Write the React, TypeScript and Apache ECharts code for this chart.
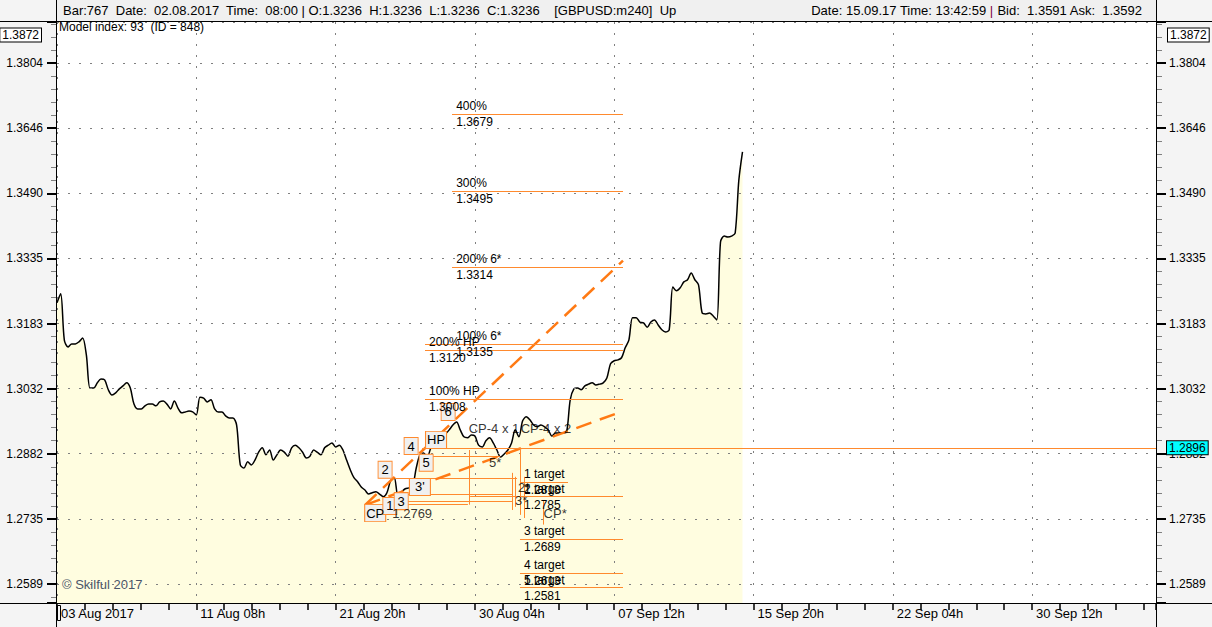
import React, { useEffect, useRef } from "react";
import * as echarts from "echarts";

const FONT = "'Liberation Sans', Arial, sans-serif";
const ORANGE = "#FF8A2E";

// ---- axes ----
const xTickLabels = ["03 Aug 2017", "11 Aug 08h", "21 Aug 20h", "30 Aug 04h", "07 Sep 12h", "15 Sep 20h", "22 Sep 04h", "30 Sep 12h"];
const BARS_PER_LABEL = 38;
const LAST_SLOT = 299.8;

const yTickLabels = ["1.2589", "1.2735", "1.2882", "1.3032", "1.3183", "1.3335", "1.3490", "1.3646", "1.3804"];
const Y_FIRST_EXP = 20; // 10^(0.005*20) = 1.2589
const LOG_STEP = 0.005;
const Y_AXIS_MIN_PRICE = 1.25469;
const Y_AXIS_MAX_PRICE = 1.39045;

// ---- GBPUSD H4 closes ----
const closes = [
  1.3231, 1.3252, 1.3144, 1.3128, 1.3135, 1.3135, 1.3140, 1.3149, 1.3110, 1.3033,
  1.3033, 1.3045, 1.3054, 1.3052, 1.3029, 1.3017, 1.3022, 1.3031, 1.3038, 1.3045,
  1.3033, 1.2996, 1.2985, 1.2985, 1.2992, 1.2996, 1.2996, 1.2992, 1.3001, 1.3003,
  1.2996, 1.2985, 1.3003, 1.2987, 1.2976, 1.2978, 1.2980, 1.2978, 1.2971, 1.3012,
  1.3010, 1.3001, 1.3006, 1.2985, 1.2978, 1.2978, 1.2969, 1.2964, 1.2964, 1.2948,
  1.2857, 1.2850, 1.2864, 1.2857, 1.2868, 1.2886, 1.2896, 1.2880, 1.2891, 1.2868,
  1.2880, 1.2891, 1.2886, 1.2877, 1.2896, 1.2902, 1.2896, 1.2886, 1.2873, 1.2877,
  1.2891, 1.2886, 1.2880, 1.2896, 1.2902, 1.2907, 1.2898, 1.2902, 1.2891, 1.2868,
  1.2846, 1.2828, 1.2819, 1.2807, 1.2800, 1.2791, 1.2794, 1.2796, 1.2791, 1.2785,
  1.2794, 1.2821, 1.2828, 1.2789, 1.2796, 1.2803, 1.2805, 1.2809, 1.2850, 1.2880,
  1.2884, 1.2875, 1.2896, 1.2905, 1.2916, 1.2923, 1.2928, 1.2937, 1.2948, 1.2955,
  1.2937, 1.2921, 1.2919, 1.2925, 1.2923, 1.2902, 1.2898, 1.2912, 1.2919, 1.2907,
  1.2891, 1.2875, 1.2882, 1.2891, 1.2907, 1.2937, 1.2921, 1.2957, 1.2967, 1.2960,
  1.2948, 1.2944, 1.2948, 1.2944, 1.2937, 1.2923, 1.2930, 1.2930, 1.2930, 1.2932,
  1.3006, 1.3031, 1.3033, 1.3029, 1.3038, 1.3042, 1.3045, 1.3040, 1.3042, 1.3045,
  1.3056, 1.3089, 1.3096, 1.3098, 1.3103, 1.3126, 1.3144, 1.3196, 1.3196, 1.3186,
  1.3184, 1.3174, 1.3186, 1.3191, 1.3179, 1.3168, 1.3163, 1.3168, 1.3268, 1.3259,
  1.3266, 1.3280, 1.3285, 1.3301, 1.3285, 1.3273, 1.3207, 1.3205, 1.3207, 1.3200,
  1.3191, 1.3374, 1.3388, 1.3386, 1.3388, 1.3395, 1.3521, 1.3589,
];

// ---- projection levels ----
const levelNames = ["400%", "300%", "200% 6*", "100% 6*", "200% HP", "100% HP", "1 target", "2 target", "3 target", "4 target", "5 target"];
const levelPrices = [1.3679, 1.3495, 1.3314, 1.3135, 1.3120, 1.3008, 1.2818, 1.2785, 1.2689, 1.2613, 1.2581];
const levelFromBar = [107.8, 107.8, 107.8, 107.8, 100.4, 100.4, 126.3, 126.3, 126.3, 126.3, 126.3];
const levelToBar = [154.4, 154.4, 154.4, 154.4, 154.4, 154.4, 139.4, 154.4, 154.4, 154.4, 154.4];

// ---- model points (boxed) ----
const boxLabels = ["CP", "1", "2", "3", "3'", "4", "5", "HP", "6"];
const boxBars = [86.8, 90.8, 89.5, 93.9, 99.0, 96.6, 100.7, 103.4, 106.7];
const boxPrices = [1.2748, 1.2764, 1.2846, 1.2775, 1.2807, 1.2900, 1.2862, 1.2914, 1.2978];

// ---- free notes ----
const noteLabels = ["5*", "3*", "2*", "CP*", "CP-4 x 1", "CP-4 x 2", "1.2769"];
const noteBars = [119.5, 126.6, 127.4, 135.9, 119.2, 133.4, 96.9];
const notePrices = [1.2862, 1.2777, 1.2805, 1.2748, 1.2941, 1.2941, 1.2748];

// ---- trend channel (dashed) [bar, price, bar, price] ----
const trendLines = [
  [84.0, 1.2766, 154.4, 1.3330],
  [84.0, 1.2766, 154.4, 1.2980],
];

// ---- thin structure lines [bar, price, bar, price] ----
const structureLines = [
  [99.0, 1.2876, 120.9, 1.2876],
  [92.2, 1.2826, 125.5, 1.2826],
  [92.2, 1.2791, 124.4, 1.2791],
  [112.7, 1.2785, 126.3, 1.2785],
  [92.2, 1.2775, 124.4, 1.2775],
  [84.0, 1.2767, 112.1, 1.2767],
  [100.4, 1.3135, 107.8, 1.3135],
  [112.5, 1.2891, 112.5, 1.2767],
  [124.1, 1.2839, 124.1, 1.2755],
  [125.0, 1.2830, 125.0, 1.2762],
  [126.3, 1.2891, 126.3, 1.2744],
  [127.5, 1.2830, 127.5, 1.2737],
  [132.6, 1.2776, 132.6, 1.2722],
];

const currentLevelPrice = 1.2896;
const currentLevelFromBar = 99.6;

const toK = (p: number) => Math.log10(p) / LOG_STEP;

function buildOption(): any {
  const yMin = toK(Y_AXIS_MIN_PRICE);
  const yMax = toK(Y_AXIS_MAX_PRICE);

  const yLabel = (v: number) => {
    const r = Math.round(v);
    if (Math.abs(v - r) > 1e-6) return "";
    return yTickLabels[r - Y_FIRST_EXP] ?? "";
  };
  const xLabel = (v: number) => {
    const q = v / BARS_PER_LABEL;
    const r = Math.round(q);
    if (Math.abs(q - r) > 1e-6) return "";
    return xTickLabels[r] ?? "";
  };

  const yAxisBase = (pos: "left" | "right", margin: number) => ({
    type: "value",
    position: pos,
    min: yMin,
    max: yMax,
    minInterval: 1,
    maxInterval: 1,
    splitNumber: 9,
    z: 2,
    axisLine: { show: false },
    axisTick: { show: true, length: 10, lineStyle: { color: "#000", width: 2 } },
    minorTick: { show: true, splitNumber: 5, length: 6, lineStyle: { color: "#808080", width: 1 } },
    axisLabel: { formatter: yLabel, color: "#000", fontSize: 12, fontFamily: FONT, margin },
    splitLine: { show: pos === "left", lineStyle: { color: "#808080", width: 1, type: [2, 9] } },
  });

  const levelMarks: any[] = [];
  levelNames.forEach((name, i) => {
    const k = toK(levelPrices[i]);
    const base = { color: "#000", fontSize: 12, fontFamily: FONT, distance: [4, 2] };
    levelMarks.push([
      { coord: [levelFromBar[i], k], label: { ...base, position: "insideStartTop", formatter: name } },
      { coord: [levelToBar[i], k] },
    ]);
    levelMarks.push([
      { coord: [levelFromBar[i], k], label: { ...base, position: "insideStartBottom", formatter: levelPrices[i].toFixed(4) } },
      { coord: [levelToBar[i], k] },
    ]);
  });

  const graphic: any[] = [
    // header
    { type: "rect", shape: { x: 57, y: 0, width: 1099, height: 21 }, style: { fill: "#F0F0F0" }, z: 10, silent: true },
    {
      type: "text", x: 63, y: 10, z: 11, silent: true,
      style: {
        text: "Bar:767  Date:  02.08.2017  Time:  08:00 | O:1.3236  H:1.3236  L:1.3236  C:1.3236    [GBPUSD:m240]  Up",
        fill: "#000", font: `13px ${FONT}`, verticalAlign: "middle", align: "left",
      },
    },
    {
      type: "text", x: 1142, y: 10, z: 11, silent: true,
      style: {
        text: "Date: 15.09.17 Time: 13:42:59 {p||} Bid:  1.3591 Ask:  1.3592",
        rich: { p: { fill: "#800040", font: `13px ${FONT}` } },
        fill: "#000", font: `13px ${FONT}`, verticalAlign: "middle", align: "right",
      },
    },
    // frame lines
    { type: "line", shape: { x1: 0, y1: 21.5, x2: 1212, y2: 21.5 }, style: { stroke: "#000", lineWidth: 1 }, z: 12, silent: true },
    { type: "line", shape: { x1: 0, y1: 603.5, x2: 1212, y2: 603.5 }, style: { stroke: "#000", lineWidth: 1 }, z: 12, silent: true },
    { type: "line", shape: { x1: 56.5, y1: 0, x2: 56.5, y2: 627 }, style: { stroke: "#000", lineWidth: 1 }, z: 12, silent: true },
    { type: "line", shape: { x1: 1156.5, y1: 0, x2: 1156.5, y2: 627 }, style: { stroke: "#000", lineWidth: 1 }, z: 12, silent: true },
    { type: "rect", shape: { x: 57.5, y: 605.5, width: 3, height: 15 }, style: { fill: "none", stroke: "#000", lineWidth: 1 }, z: 12, silent: true },
    // texts
    { type: "text", x: 59, y: 27, z: 11, silent: true, style: { text: "Model index: 93  (ID = 848)", fill: "#000", font: `12px ${FONT}`, verticalAlign: "middle" } },
    { type: "text", x: 62, y: 584, z: 11, silent: true, style: { text: "© Skilful 2017", fill: "#4B5569", font: `13px ${FONT}`, verticalAlign: "middle" } },
    {
      type: "text", x: 41, y: 35, z: 11, silent: true,
      style: { text: "1.3872", fill: "#000", font: `12px ${FONT}`, align: "right", verticalAlign: "middle", backgroundColor: "#fff", borderColor: "#000", borderWidth: 1, padding: [1, 2, 0, 2] },
    },
    {
      type: "text", x: 1168, y: 35, z: 11, silent: true,
      style: { text: "1.3872", fill: "#000", font: `12px ${FONT}`, align: "left", verticalAlign: "middle", backgroundColor: "#fff", borderColor: "#000", borderWidth: 1, padding: [1, 2, 0, 2] },
    },
  ];

  return {
    animation: false,
    backgroundColor: "#F4F4F4",
    grid: { left: 57, right: 56, top: 22, bottom: 24, show: true, backgroundColor: "#FFFFFF", borderWidth: 0, containLabel: false },
    xAxis: {
      type: "value",
      min: 0,
      max: LAST_SLOT,
      interval: BARS_PER_LABEL,
      z: 2,
      axisLine: { show: false },
      axisTick: { show: true, length: 7, lineStyle: { color: "#000", width: 1.5 } },
      minorTick: { show: true, splitNumber: 5, length: 7, lineStyle: { color: "#000", width: 1.5 } },
      axisLabel: { formatter: xLabel, color: "#000", fontSize: 13, fontFamily: FONT, align: "left", margin: 4, padding: [0, 0, 0, 4] },
      splitLine: { show: true, lineStyle: { color: "#808080", width: 1, type: [2, 9] } },
    },
    yAxis: [yAxisBase("left", 14), yAxisBase("right", 13)],
    series: [
      {
        type: "line",
        name: "GBPUSD",
        data: closes.map((c, i) => [i, toK(c)]),
        showSymbol: false,
        smooth: 0.3,
        z: 1,
        silent: true,
        lineStyle: { color: "#000", width: 1.5 },
        areaStyle: { color: "#FFFDE0", origin: "start", opacity: 1 },
      },
      {
        type: "lines",
        coordinateSystem: "cartesian2d",
        z: 3,
        silent: true,
        lineStyle: { color: ORANGE, width: 1, opacity: 1 },
        data: structureLines.map((s) => ({ coords: [[s[0], toK(s[1])], [s[2], toK(s[3])]] })),
      },
      {
        type: "lines",
        coordinateSystem: "cartesian2d",
        z: 3,
        silent: true,
        lineStyle: { color: "#FF7A14", width: 2.5, type: [16, 9], opacity: 1 },
        data: trendLines.map((s) => ({ coords: [[s[0], toK(s[1])], [s[2], toK(s[3])]] })),
      },
      {
        type: "line",
        name: "levels",
        data: [],
        z: 3,
        silent: true,
        markLine: {
          silent: true,
          symbol: "none",
          animation: false,
          lineStyle: { color: ORANGE, width: 1, type: "solid" },
          data: levelMarks,
        },
      },
      {
        type: "scatter",
        name: "points",
        z: 4,
        silent: true,
        symbol: "rect",
        symbolSize: (_v: any, p: any) => [String(p.name).length * 7 + 7, 17],
        itemStyle: { color: "#F0F0F0", borderColor: ORANGE, borderWidth: 1, opacity: 1 },
        label: { show: true, position: "inside", formatter: "{b}", color: "#000", fontSize: 13, fontFamily: FONT },
        data: boxLabels.map((n, i) => ({ name: n, value: [boxBars[i], toK(boxPrices[i])] })),
      },
      {
        type: "scatter",
        name: "notes",
        z: 4,
        silent: true,
        symbolSize: 0,
        itemStyle: { color: "rgba(0,0,0,0)" },
        label: { show: true, position: "inside", formatter: "{b}", color: "#000", fontSize: 13, fontFamily: FONT },
        data: noteLabels.map((n, i) => ({ name: n, value: [noteBars[i], toK(notePrices[i])] })),
      },
      {
        type: "line",
        name: "current",
        data: [],
        z: 5,
        silent: true,
        markLine: {
          silent: true,
          symbol: "none",
          animation: false,
          lineStyle: { color: ORANGE, width: 1, type: "solid" },
          label: {
            position: "end",
            distance: 11,
            formatter: currentLevelPrice.toFixed(4),
            color: "#000",
            fontSize: 12,
            fontFamily: FONT,
            backgroundColor: "#00FFFF",
            borderColor: "#000",
            borderWidth: 1,
            padding: [1, 2, 0, 2],
          },
          data: [[{ coord: [currentLevelFromBar, toK(currentLevelPrice)] }, { coord: [LAST_SLOT, toK(currentLevelPrice)] }]],
        },
      },
    ],
    graphic,
  };
}

export default function App() {
  const ref = useRef<HTMLDivElement>(null);
  useEffect(() => {
    if (!ref.current) return;
    const chart = echarts.init(ref.current, null, { renderer: "svg" });
    chart.setOption(buildOption());
    return () => chart.dispose();
  }, []);
  return <div ref={ref} style={{ position: "fixed", left: 0, top: 0, width: 1212, height: 627 }} />;
}
